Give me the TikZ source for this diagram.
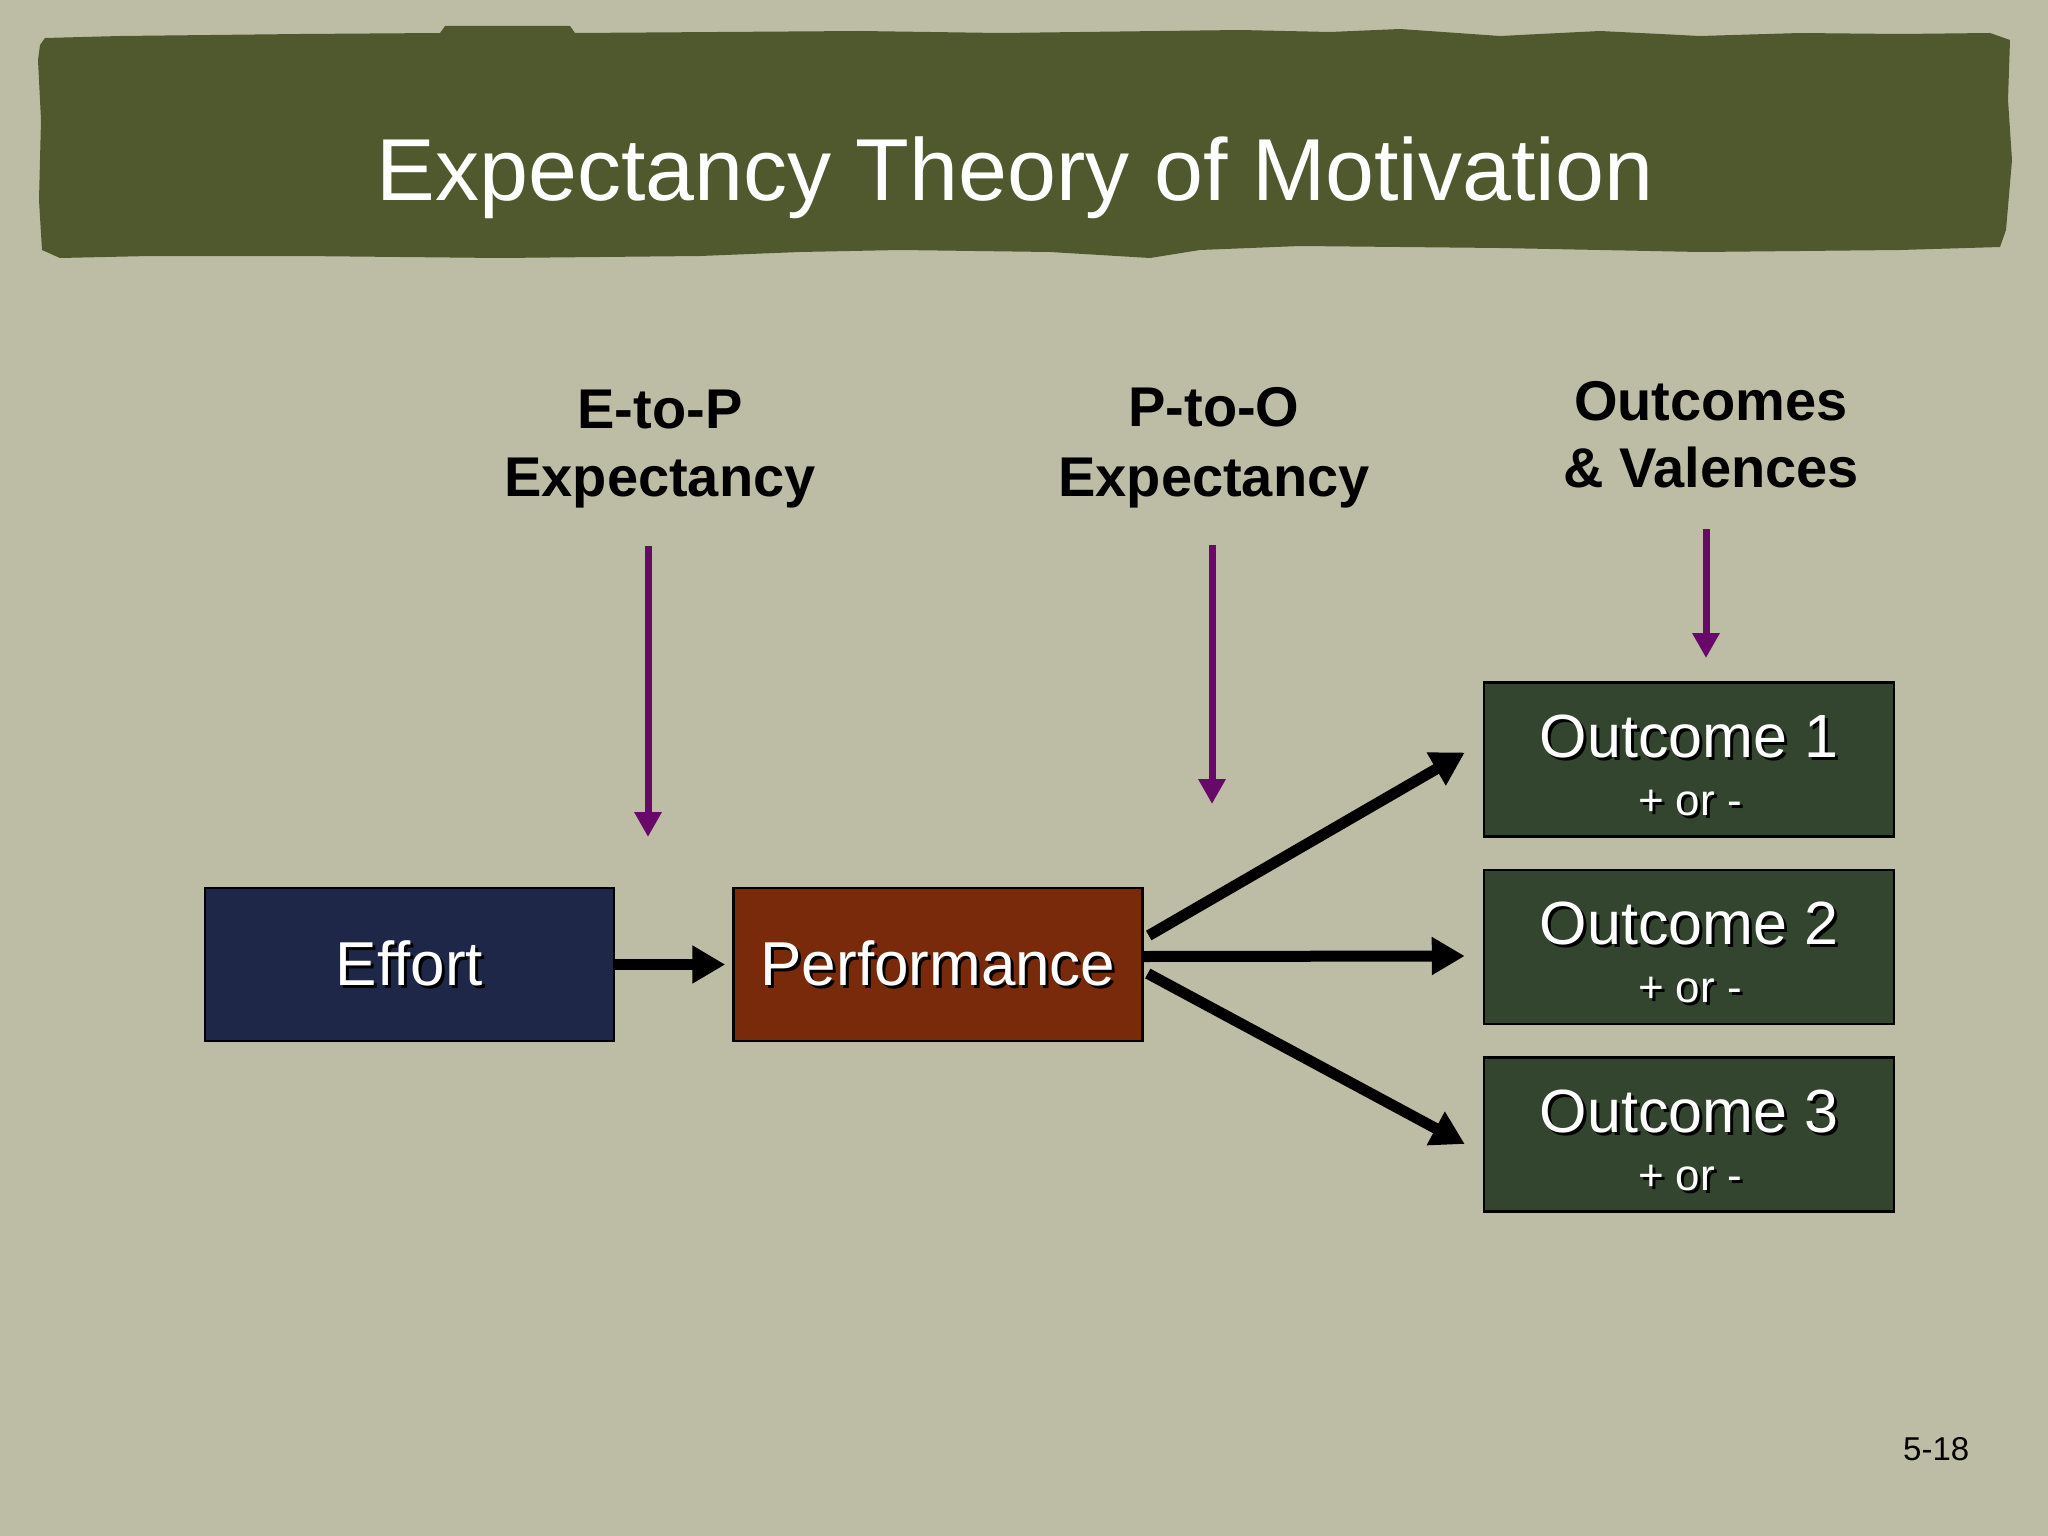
\documentclass[tikz,border=0pt]{standalone}
\usepackage{fontspec}
\setmainfont{Liberation Sans}
\usetikzlibrary{arrows.meta}
\definecolor{bgc}{RGB}{189,189,166}
\definecolor{banc}{RGB}{80,89,45}
\definecolor{effc}{RGB}{31,39,72}
\definecolor{perc}{RGB}{120,42,10}
\definecolor{outc}{RGB}{51,69,47}
\definecolor{purc}{RGB}{104,8,104}
\newcommand{\shd}[1]{\leavevmode\rlap{\kern3pt\raisebox{-3pt}{\textcolor{black}{#1}}}#1}
\begin{document}
\begin{tikzpicture}[x=1pt,y=-1pt,
  box/.style={draw=black,line width=2.5pt,minimum width=409pt,minimum height=153pt,inner sep=0pt,text=white,font=\fontsize{62}{70}\selectfont},
  obox/.style={draw=black,line width=2.5pt,fill=outc,minimum width=410pt,minimum height=154pt,inner sep=0pt},
  olab/.style={anchor=base,inner sep=0pt,text=white,font=\fontsize{61}{70}\selectfont},
  osub/.style={anchor=base,inner sep=0pt,text=white,font=\fontsize{44}{50}\selectfont},
  hdr/.style={anchor=base,inner sep=0pt,text=black,font=\bfseries\fontsize{56}{67}\selectfont},
  blk/.style={draw=black,line width=11pt,-{Triangle[length=33pt,width=36pt]}},
  pur/.style={draw=purc,line width=7pt,-{Triangle[length=25pt,width=26pt]}}
]
\useasboundingbox (0,0) rectangle (2048,1536);
\fill[bgc] (0,0) rectangle (2048,1536);
% banner
\fill[banc] (45,38) -- (120,36) -- (300,34) -- (440,33) -- (445,26) -- (570,26) -- (575,33) -- (860,31) -- (1000,33) -- (1240,30) -- (1330,32) -- (1400,29) -- (1500,36) -- (1600,31) -- (1700,36) -- (1800,33) -- (1900,34) -- (1990,33) -- (2010,40) -- (2008,100) -- (2012,160) -- (2006,230) -- (2000,247) -- (1900,250) -- (1700,252) -- (1500,248) -- (1300,246) -- (1200,250) -- (1150,258) -- (1050,252) -- (900,250) -- (800,252) -- (700,256) -- (500,258) -- (300,256) -- (150,256) -- (60,258) -- (42,250) -- (39,200) -- (41,120) -- (38,60) -- (40,45) -- cycle;
\node[anchor=base,inner sep=0pt,text=white,font=\fontsize{88}{100}\selectfont] (title) at (1015,200) {Expectancy Theory of Motivation};

% header labels
\node[hdr] (etop1) at (660,428) {E-to-P};
\node[hdr] (etop2) at (660,496) {Expectancy};
\node[hdr] (ptoo1) at (1214,426) {P-to-O};
\node[hdr] (ptoo2) at (1214,496) {Expectancy};
\node[hdr] (outv1) at (1711,420) {Outcomes};
\node[hdr] (outv2) at (1711,487) {\& Valences};

% boxes
\node[box,fill=effc] (effort) at (409.5,964.5) {\shd{Effort}};
\node[box,fill=perc] (perf) at (938,964.5) {\shd{Performance}};
\node[obox] (out1) at (1689,759.5) {};
\node[obox] (out2) at (1689,947) {};
\node[obox] (out3) at (1689,1134.5) {};
\node[olab] (out1a) at (1689,757) {\shd{Outcome 1}};
\node[osub] (out1b) at (1690,815) {\shd{+ or -}};
\node[olab] (out2a) at (1689,944.5) {\shd{Outcome 2}};
\node[osub] (out2b) at (1690,1002.5) {\shd{+ or -}};
\node[olab] (out3a) at (1689,1132) {\shd{Outcome 3}};
\node[osub] (out3b) at (1690,1190) {\shd{+ or -}};

% black arrows
\draw[blk] (effort.east) -- ([xshift=-7pt]perf.west);
\draw[blk] ([xshift=5pt,yshift=29pt]perf.east) -- ([xshift=-18pt,yshift=7pt]out1.west);
\draw[blk] ([yshift=8pt]perf.east) -- ([xshift=-18pt,yshift=-9pt]out2.west);
\draw[blk] ([xshift=4pt,yshift=-9pt]perf.east) -- ([xshift=-18pt,yshift=-9.5pt]out3.west);

% purple arrows
\coordinate (p1s) at (648,546);
\coordinate (p1e) at (648,837);
\coordinate (p2s) at (1212,545);
\coordinate (p2e) at (1212,804);
\coordinate (p3s) at (1706,529);
\coordinate (p3e) at (1706,658);
\draw[pur] (p1s) -- (p1e);
\draw[pur] (p2s) -- (p2e);
\draw[pur] (p3s) -- (p3e);

% page number
\node[anchor=base west,inner sep=0pt,text=black,font=\fontsize{33}{40}\selectfont] (pnum) at (1903,1460) {5-18};
\end{tikzpicture}
\end{document}
